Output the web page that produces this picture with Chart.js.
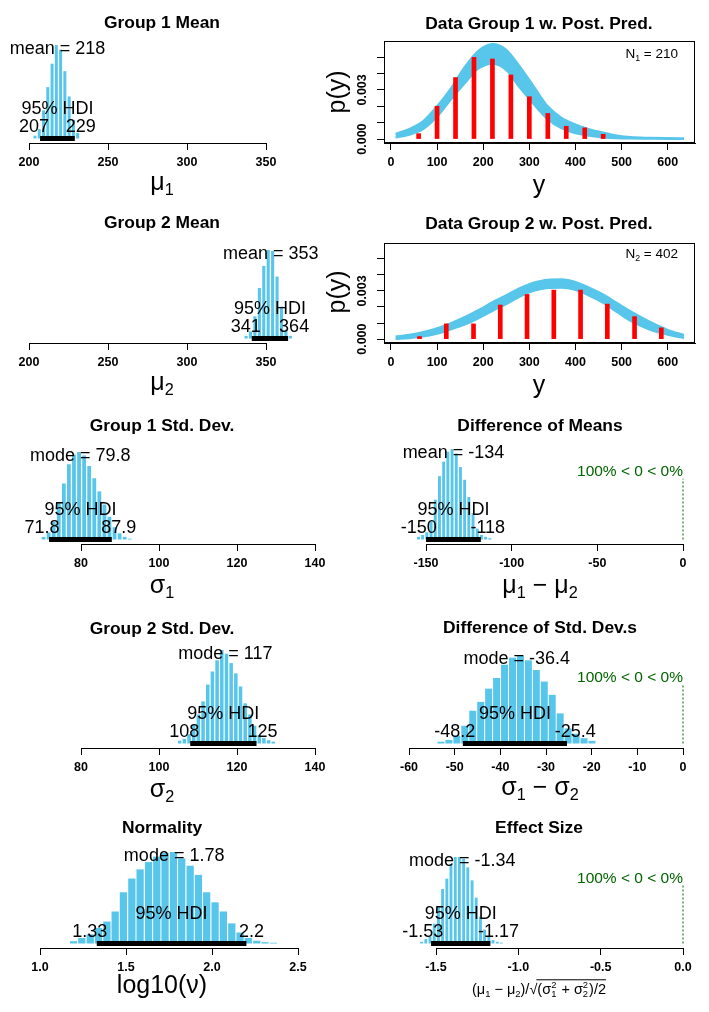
<!DOCTYPE html>
<html>
<head>
<meta charset="utf-8">
<script src="https://cdn.jsdelivr.net/npm/chart.js@4.4.1/dist/chart.umd.min.js"></script>
<style>
html, body { margin: 0; padding: 0; background: #fff; }
#wrap { position: relative; width: 709px; height: 1012px; overflow: hidden; }
canvas { position: absolute; }
</style>
</head>
<body>
<div id="wrap"></div>
<script>
// ---- posterior histograms: bin mids + relative density ----
const mu1Mids = [203.8, 206.5, 209.2, 211.9, 214.6, 217.3, 220.0, 222.7, 225.4, 228.1, 230.8];
const mu1Dens = [0.03, 0.1, 0.3, 0.55, 0.8, 1.0, 0.95, 0.72, 0.45, 0.2, 0.06];
const mu1Hdi = [207, 229];
const mu1Ct = ['mean', 218];

const mu2Mids = [337.4, 340.2, 343.0, 345.8, 348.6, 351.4, 354.2, 357.0, 359.8, 362.6, 365.4];
const mu2Dens = [0.03, 0.08, 0.25, 0.57, 0.82, 1.0, 0.99, 0.7, 0.36, 0.1, 0.03];
const mu2Hdi = [341, 364];
const mu2Ct = ['mean', 353];

const sd1Mids = [70.4, 71.7, 73.0, 74.3, 75.6, 76.9, 78.2, 79.5, 80.8, 82.1, 83.4, 84.7, 86.0, 87.3, 88.6, 89.9, 91.2, 92.5];
const sd1Dens = [0.03, 0.08, 0.2, 0.42, 0.64, 0.86, 0.97, 1.0, 0.96, 0.84, 0.7, 0.55, 0.4, 0.26, 0.14, 0.07, 0.03, 0.01];
const sd1Hdi = [71.8, 87.9];
const sd1Ct = ['mode', 79.8];

const sd2Mids = [105.3, 106.5, 107.7, 108.9, 110.1, 111.3, 112.5, 113.7, 114.9, 116.1, 117.3, 118.5, 119.7, 120.9, 122.1, 123.3, 124.5, 125.7, 126.9, 128.1, 129.3];
const sd2Dens = [0.03, 0.05, 0.1, 0.2, 0.31, 0.45, 0.63, 0.77, 0.89, 1.0, 0.96, 0.86, 0.75, 0.61, 0.43, 0.31, 0.19, 0.09, 0.06, 0.035, 0.02];
const sd2Hdi = [108, 125];
const sd2Ct = ['mode', 117];

const nuMids = [1.195, 1.243, 1.292, 1.340, 1.389, 1.437, 1.485, 1.534, 1.582, 1.631, 1.679, 1.727, 1.776, 1.824, 1.873, 1.921, 1.969, 2.018, 2.066, 2.115, 2.163, 2.211, 2.260, 2.308, 2.357];
const nuDens = [0.025, 0.06, 0.1, 0.17, 0.24, 0.35, 0.56, 0.71, 0.81, 0.89, 0.95, 0.99, 1.0, 0.93, 0.85, 0.75, 0.56, 0.45, 0.35, 0.22, 0.12, 0.06, 0.03, 0.015, 0.008];
const nuHdi = [1.33, 2.2];
const nuCt = ['mode', 1.78];

const dMuMids = [-154.4, -151.95, -149.5, -147.05, -144.6, -142.15, -139.7, -137.25, -134.8, -132.35, -129.9, -127.45, -125.0, -122.55, -120.1, -117.65, -115.2, -112.75];
const dMuDens = [0.03, 0.05, 0.08, 0.2, 0.44, 0.7, 0.86, 0.97, 1.0, 0.95, 0.8, 0.66, 0.47, 0.29, 0.12, 0.05, 0.03, 0.015];
const dMuHdi = [-150, -118];
const dMuCt = ['mean', -134];

const dSdMids = [-53.0, -51.26, -49.52, -47.78, -46.04, -44.3, -42.56, -40.82, -39.08, -37.34, -35.6, -33.86, -32.12, -30.38, -28.64, -26.9, -25.16, -23.42, -21.68, -19.94];
const dSdDens = [0.02, 0.04, 0.09, 0.2, 0.37, 0.47, 0.62, 0.74, 0.89, 0.97, 1.0, 0.94, 0.83, 0.7, 0.55, 0.34, 0.17, 0.11, 0.06, 0.03];
const dSdHdi = [-48.2, -25.4];
const dSdCt = ['mode', -36.4];

const effMids = [-1.587, -1.562, -1.536, -1.511, -1.485, -1.460, -1.434, -1.409, -1.383, -1.358, -1.332, -1.307, -1.281, -1.256, -1.230, -1.205, -1.179, -1.154, -1.128, -1.103];
const effDens = [0.02, 0.05, 0.08, 0.23, 0.43, 0.63, 0.75, 0.92, 1.0, 1.0, 0.98, 0.88, 0.73, 0.53, 0.31, 0.16, 0.08, 0.04, 0.02, 0.01];
const effHdi = [-1.53, -1.17];
const effCt = ['mode', -1.34];

const compVal = 0;
const pctBelow = 100;

// ---- data + posterior predictive band ----
const ppX = [10, 40, 70, 100, 130, 160, 190, 220, 250, 280, 310, 340, 370, 400, 430, 460, 490, 520, 560, 600, 635];
const pp1Upper = [0.00032, 0.00062, 0.0011, 0.0020, 0.0031, 0.0044, 0.0054, 0.0058, 0.00545, 0.0044, 0.0032, 0.0020, 0.0013, 0.0009, 0.0006, 0.0004, 0.00022, 0.00012, 0.00008, 0.00006, 0.00005];
const pp1Lower = [0.0001, 0.00026, 0.0006, 0.00135, 0.0024, 0.0034, 0.0043, 0.0046, 0.0042, 0.0031, 0.0021, 0.0012, 0.00065, 0.00035, 0.0002, 0.0001, 0.00005, 0.00003, 0.00002, 0.00001, 0.00001];
const pp2Upper = [0.00016, 0.00027, 0.00044, 0.00068, 0.0010, 0.00138, 0.00182, 0.0023, 0.00274, 0.00318, 0.00352, 0.0037, 0.00372, 0.00356, 0.0032, 0.00278, 0.00225, 0.00172, 0.0011, 0.00058, 0.00027];
const pp2Lower = [0.00001, 0.00006, 0.00016, 0.00033, 0.0006, 0.0009, 0.0013, 0.00175, 0.00218, 0.00265, 0.003, 0.00318, 0.0032, 0.00305, 0.0027, 0.00226, 0.00168, 0.00112, 0.0006, 0.00027, 0.00006];
const data1Mids = [60, 100, 140, 180, 220, 260, 300, 340, 380, 420, 460];
const data1Dens = [0.00033, 0.0020, 0.00375, 0.00498, 0.00488, 0.00391, 0.00258, 0.00156, 0.00078, 0.00068, 0.00029];
const data2Mids = [62, 120, 179, 237, 295, 353, 411, 469, 528, 586];
const data2Dens = [0.00016, 0.00095, 0.00095, 0.00212, 0.00278, 0.00305, 0.00305, 0.00218, 0.0014, 0.0007];
const ppYLabels = [0, 0.003];

const FONT = "'Liberation Sans', Arial, Helvetica, sans-serif";
const SKY = '#57c6ea';
const GREEN = '#006400';
const XAXIS_H = 30;
const TICK_FONT = { size: 12.5, weight: 'bold' };

Chart.defaults.font.family = FONT;
Chart.defaults.color = '#000';

function makeCanvas(box) {
  const c = document.createElement('canvas');
  c.width = box[2];
  c.height = box[3];
  c.style.left = box[0] + 'px';
  c.style.top = box[1] + 'px';
  c.style.width = box[2] + 'px';
  c.style.height = box[3] + 'px';
  document.getElementById('wrap').appendChild(c);
  return c;
}

// text with sub/superscripts; parts = [text, kind]
function drawRich(ctx, parts, x, y, size, align) {
  const small = size * 0.65;
  const segs = [];
  let w = 0;
  for (const [t, k] of parts) {
    let sw = 0;
    if (k === 'stack') {
      ctx.font = small + 'px ' + FONT;
      const ab = t.split('|');
      sw = Math.max(ctx.measureText(ab[0]).width, ctx.measureText(ab[1]).width) + 1;
    } else if (k !== 'end') {
      ctx.font = (k === 'sub' || k === 'sup' ? small : size) + 'px ' + FONT;
      sw = ctx.measureText(t).width;
    }
    segs.push([t, k, w, sw]);
    w += sw;
  }
  const x0 = align === 'center' ? x - w / 2 : align === 'right' ? x - w : x;
  ctx.textAlign = 'left';
  ctx.textBaseline = 'alphabetic';
  let overStart = 0;
  for (const [t, k, off, sw] of segs) {
    const px = x0 + off;
    if (k === 'sub') {
      ctx.font = small + 'px ' + FONT;
      ctx.fillText(t, px, y + size * 0.2);
    } else if (k === 'sup') {
      ctx.font = small + 'px ' + FONT;
      ctx.fillText(t, px, y - size * 0.4);
    } else if (k === 'stack') {
      const ab = t.split('|');
      ctx.font = small + 'px ' + FONT;
      ctx.fillText(ab[0], px, y - size * 0.38);
      ctx.fillText(ab[1], px, y + size * 0.22);
    } else if (k === 'end') {
      ctx.beginPath();
      ctx.lineWidth = 1;
      ctx.strokeStyle = ctx.fillStyle;
      ctx.moveTo(overStart, y - size * 0.98);
      ctx.lineTo(px, y - size * 0.98);
      ctx.stroke();
    } else {
      ctx.font = size + 'px ' + FONT;
      ctx.fillText(t, px, y);
      if (k === 'rad') overStart = px + sw - 1;
    }
  }
}

const histPanels = [
  { box: [0, 0, 330, 200], mids: mu1Mids, dens: mu1Dens, hdi: mu1Hdi, ct: mu1Ct, comp: false,
    xr: [200, 350, 50], dec: 0, x0: 29, x1: 266, axisY: 143, topY: 45, barPct: 0.7,
    title: 'Group 1 Mean', titleX: 162, titleY: 22,
    xlab: [['μ', ''], ['1', 'sub']], xlabX: 162, xlabY: 190, xlabSize: 25 },
  { box: [0, 200, 330, 200], mids: mu2Mids, dens: mu2Dens, hdi: mu2Hdi, ct: mu2Ct, comp: false,
    xr: [200, 350, 50], dec: 0, x0: 29, x1: 266, axisY: 343, topY: 250, barPct: 0.7,
    title: 'Group 2 Mean', titleX: 162, titleY: 222,
    xlab: [['μ', ''], ['2', 'sub']], xlabX: 162, xlabY: 390, xlabSize: 25 },
  { box: [0, 400, 330, 205], mids: sd1Mids, dens: sd1Dens, hdi: sd1Hdi, ct: sd1Ct, comp: false,
    xr: [80, 140, 20], dec: 0, x0: 81, x1: 315, axisY: 544, topY: 452, barPct: 0.75,
    title: 'Group 1 Std. Dev.', titleX: 162, titleY: 425,
    xlab: [['σ', ''], ['1', 'sub']], xlabX: 162, xlabY: 593, xlabSize: 25 },
  { box: [0, 605, 330, 205], mids: sd2Mids, dens: sd2Dens, hdi: sd2Hdi, ct: sd2Ct, comp: false,
    xr: [80, 140, 20], dec: 0, x0: 81, x1: 315, axisY: 748, topY: 650, barPct: 0.75,
    title: 'Group 2 Std. Dev.', titleX: 162, titleY: 628,
    xlab: [['σ', ''], ['2', 'sub']], xlabX: 162, xlabY: 797, xlabSize: 25 },
  { box: [0, 810, 330, 202], mids: nuMids, dens: nuDens, hdi: nuHdi, ct: nuCt, comp: false,
    xr: [1, 2.5, 0.5], dec: 1, x0: 40, x1: 298, axisY: 948, topY: 852, barPct: 0.88,
    title: 'Normality', titleX: 162, titleY: 827,
    xlab: [['log10(ν)', '']], xlabX: 162, xlabY: 993, xlabSize: 25 },
  { box: [320, 400, 389, 205], mids: dMuMids, dens: dMuDens, hdi: dMuHdi, ct: dMuCt, comp: true,
    xr: [-150, 0, 50], dec: 0, x0: 426, x1: 683, axisY: 544, topY: 449, barPct: 0.7,
    title: 'Difference of Means', titleX: 540, titleY: 425,
    xlab: [['μ', ''], ['1', 'sub'], [' − μ', ''], ['2', 'sub']], xlabX: 540, xlabY: 593, xlabSize: 25 },
  { box: [320, 605, 389, 205], mids: dSdMids, dens: dSdDens, hdi: dSdHdi, ct: dSdCt, comp: true,
    xr: [-60, 0, 10], dec: 0, x0: 409, x1: 683, axisY: 748, topY: 655, barPct: 0.88,
    title: 'Difference of Std. Dev.s', titleX: 540, titleY: 627,
    xlab: [['σ', ''], ['1', 'sub'], [' − σ', ''], ['2', 'sub']], xlabX: 540, xlabY: 795, xlabSize: 25 },
  { box: [320, 810, 389, 202], mids: effMids, dens: effDens, hdi: effHdi, ct: effCt, comp: true,
    xr: [-1.5, 0, 0.5], dec: 1, x0: 436, x1: 683, axisY: 948, topY: 857, barPct: 0.7,
    title: 'Effect Size', titleX: 539, titleY: 827,
    xlab: [['(μ', ''], ['1', 'sub'], [' − μ', ''], ['2', 'sub'], [')/', ''], ['√', 'rad'],
           ['(σ', ''], ['2|1', 'stack'], [' + σ', ''], ['2|2', 'stack'], [')/2', ''], ['', 'end']],
    xlabX: 539, xlabY: 994, xlabSize: 14.5 }
];

function histNotes(p) {
  return {
    id: 'histNotes',
    afterDraw(chart) {
      const ctx = chart.ctx, xs = chart.scales.x, ys = chart.scales.y;
      const cx = p.box[0], cy = p.box[1];
      const maxH = ys.max;
      const base = ys.getPixelForValue(0);
      ctx.save();
      ctx.fillStyle = '#000';
      ctx.textAlign = 'center';
      ctx.textBaseline = 'alphabetic';
      ctx.font = 'bold 17.4px ' + FONT;
      ctx.fillText(p.title, p.titleX - cx, p.titleY - cy + 6);

      ctx.font = '18px ' + FONT;
      ctx.fillText(p.ct[0] + ' = ' + p.ct[1], xs.getPixelForValue(p.ct[1]), ys.getPixelForValue(0.9 * maxH));
      ctx.fillText('95% HDI', xs.getPixelForValue((p.hdi[0] + p.hdi[1]) / 2), base - 24.5);
      ctx.textAlign = 'left';
      const lo = String(p.hdi[0]), hi = String(p.hdi[1]);
      ctx.fillText(lo, xs.getPixelForValue(p.hdi[0]) - 0.7 * ctx.measureText(lo).width, base - 6.5);
      ctx.fillText(hi, xs.getPixelForValue(p.hdi[1]) - 0.3 * ctx.measureText(hi).width, base - 6.5);

      if (p.comp) {
        ctx.fillStyle = GREEN;
        ctx.font = '15.5px ' + FONT;
        ctx.textAlign = 'right';
        ctx.fillText(pctBelow + '% < ' + compVal + ' < ' + (100 - pctBelow) + '%',
          xs.getPixelForValue(compVal), ys.getPixelForValue(0.7 * maxH));
        ctx.fillStyle = '#000';
      }
      drawRich(ctx, p.xlab, p.xlabX - cx, p.xlabY - cy, p.xlabSize, 'center');
      ctx.restore();
    }
  };
}

function histChart(p) {
  const cv = makeCanvas(p.box);
  const [cx, cy, cw, ch] = p.box;
  const maxH = Math.max(...p.dens);
  const gap = 4.5;
  const yMin = -maxH * gap / (p.axisY - gap - p.topY);
  const datasets = [
    { type: 'line', data: [{ x: p.hdi[0], y: 0 }, { x: p.hdi[1], y: 0 }],
      borderColor: '#000', borderWidth: 5, borderCapStyle: 'butt', pointRadius: 0, clip: false, order: 0 },
    { type: 'bar', data: p.mids.map((m, i) => ({ x: m, y: p.dens[i] })),
      backgroundColor: SKY, borderWidth: 0, barPercentage: p.barPct, categoryPercentage: 1,
      clip: false, order: 2 }
  ];
  if (p.comp) {
    datasets.push({ type: 'line', data: [{ x: compVal, y: 0 }, { x: compVal, y: 0.672 * maxH }],
      borderColor: GREEN, borderWidth: 1, borderDash: [2, 2], pointRadius: 0, clip: false, order: 1 });
  }
  new Chart(cv, {
    type: 'bar',
    data: { datasets: datasets },
    options: {
      responsive: false,
      animation: false,
      events: [],
      layout: {
        autoPadding: false,
        padding: { left: p.x0 - cx, right: cx + cw - p.x1, top: p.topY - cy, bottom: cy + ch - p.axisY - XAXIS_H }
      },
      plugins: { legend: { display: false }, tooltip: { enabled: false } },
      scales: {
        x: {
          type: 'linear', min: p.xr[0], max: p.xr[1], offset: false,
          grid: { display: true, drawOnChartArea: false, drawTicks: true, tickLength: 7, color: '#000', offset: false },
          border: { display: true, color: '#000', width: 1 },
          ticks: { stepSize: p.xr[2], includeBounds: false, autoSkip: false, maxRotation: 0, padding: 5,
                   font: TICK_FONT, color: '#000', callback: v => v.toFixed(p.dec) },
          afterFit: s => { s.height = XAXIS_H; s.paddingLeft = 0; s.paddingRight = 0; }
        },
        y: { display: false, min: yMin, max: maxH }
      }
    },
    plugins: [histNotes(p)]
  });
}

const ppPanels = [
  { box: [320, 0, 389, 200], upper: pp1Upper, lower: pp1Lower, mids: data1Mids, dens: data1Dens,
    left: 384, right: 695, top: 41, bottom: 143, title: 'Data Group 1 w. Post. Pred.', titleY: 23,
    nLab: [['N', ''], ['1', 'sub'], [' = 210', '']], nY: 58, ylabY: 92, xlabY: 193 },
  { box: [320, 200, 389, 200], upper: pp2Upper, lower: pp2Lower, mids: data2Mids, dens: data2Dens,
    left: 384, right: 695, top: 243, bottom: 343, title: 'Data Group 2 w. Post. Pred.', titleY: 223,
    nLab: [['N', ''], ['2', 'sub'], [' = 402', '']], nY: 258, ylabY: 292, xlabY: 393 }
];

function ppNotes(p) {
  return {
    id: 'ppNotes',
    afterDraw(chart) {
      const ctx = chart.ctx, a = chart.chartArea, ys = chart.scales.y;
      const cx = p.box[0], cy = p.box[1];
      ctx.save();
      ctx.strokeStyle = '#000';
      ctx.lineWidth = 1;
      ctx.strokeRect(Math.round(a.left) + 0.5, Math.round(a.top) + 0.5,
        Math.round(a.right - a.left) - 1, Math.round(a.bottom - a.top) - 1);
      ctx.fillStyle = '#000';
      ctx.textAlign = 'center';
      ctx.textBaseline = 'alphabetic';
      ctx.font = 'bold 17.4px ' + FONT;
      ctx.fillText(p.title, 539 - cx, p.titleY - cy + 6);
      drawRich(ctx, p.nLab, 678 - cx, p.nY - cy, 13.5, 'right');
      ctx.font = '25px ' + FONT;
      ctx.textAlign = 'center';
      ctx.fillText('y', 539 - cx, p.xlabY - cy);
      // rotated y labels
      ctx.save();
      ctx.translate(338 - cx, p.ylabY - cy);
      ctx.rotate(-Math.PI / 2);
      ctx.textBaseline = 'middle';
      ctx.fillText('p(y)', 0, 0);
      ctx.restore();
      ctx.font = 'bold 12.5px ' + FONT;
      ppYLabels.forEach(v => {
        ctx.save();
        ctx.translate(363 - cx, ys.getPixelForValue(v));
        ctx.rotate(-Math.PI / 2);
        ctx.textAlign = 'center';
        ctx.textBaseline = 'middle';
        ctx.fillText(v.toFixed(3), 0, 0);
        ctx.restore();
      });
      ctx.restore();
    }
  };
}

function ppChart(p) {
  const cv = makeCanvas(p.box);
  const [cx, cy, cw, ch] = p.box;
  new Chart(cv, {
    type: 'line',
    data: {
      datasets: [
        { data: ppX.map((x, i) => ({ x: x, y: p.lower[i] })), borderColor: SKY, borderWidth: 2,
          pointRadius: 0, cubicInterpolationMode: 'monotone', fill: false, order: 3 },
        { data: ppX.map((x, i) => ({ x: x, y: p.upper[i] })), borderColor: SKY, borderWidth: 2,
          pointRadius: 0, cubicInterpolationMode: 'monotone', fill: '-1', backgroundColor: SKY, order: 2 },
        { type: 'bar', data: p.mids.map((m, i) => ({ x: m, y: p.dens[i] })), backgroundColor: '#ff0000',
          borderWidth: 0, barThickness: 4, order: 1 }
      ]
    },
    options: {
      responsive: false,
      animation: false,
      events: [],
      layout: {
        autoPadding: false,
        padding: { left: p.left - cx - 7, right: cx + cw - p.right, top: p.top - cy, bottom: cy + ch - p.bottom - XAXIS_H }
      },
      plugins: { legend: { display: false }, tooltip: { enabled: false } },
      scales: {
        x: {
          type: 'linear', min: -15, max: 659, offset: false,
          grid: { display: true, drawOnChartArea: false, drawTicks: true, tickLength: 7, color: '#000', offset: false },
          border: { display: true, color: '#000', width: 1 },
          ticks: { stepSize: 100, includeBounds: false, autoSkip: false, maxRotation: 0, padding: 5,
                   font: TICK_FONT, color: '#000', callback: v => v.toFixed(0) },
          afterFit: s => { s.height = XAXIS_H; s.paddingLeft = 0; s.paddingRight = 0; }
        },
        y: {
          type: 'linear', min: -0.00024, max: 0.00598,
          grid: { display: true, drawOnChartArea: false, drawTicks: true, tickLength: 7, color: '#000' },
          border: { display: true, color: '#000', width: 1 },
          ticks: { stepSize: 0.001, includeBounds: false, autoSkip: false, callback: () => '' },
          afterFit: s => { s.width = 7; s.paddingTop = 0; s.paddingBottom = 0; }
        }
      }
    },
    plugins: [ppNotes(p)]
  });
}

histPanels.forEach(histChart);
ppPanels.forEach(ppChart);
</script>
</body>
</html>
